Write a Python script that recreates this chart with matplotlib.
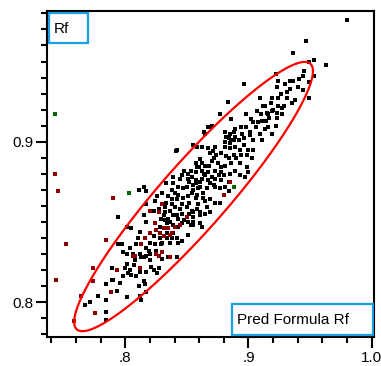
import numpy as np
import matplotlib
matplotlib.use("Agg")
import matplotlib.pyplot as plt
from matplotlib.patches import Rectangle
from matplotlib.ticker import FixedLocator

# ---------------- data ----------------
black_pts = [
    (0.980,0.976),(0.947,0.963),(0.936,0.955),(0.953,0.951),(0.949,0.950),(0.963,0.948),(0.922,0.942),
    (0.945,0.944),(0.944,0.941),(0.953,0.941),(0.934,0.938),(0.936,0.938),(0.924,0.938),(0.949,0.937),
    (0.923,0.934),(0.934,0.933),(0.944,0.932),(0.931,0.931),(0.949,0.927),(0.896,0.936),(0.883,0.925),
    (0.877,0.917),(0.868,0.909),(0.841,0.894),
    (0.909,0.927),(0.919,0.927),(0.924,0.927),(0.912,0.922),(0.920,0.920),(0.924,0.922),(0.927,0.921),
    (0.898,0.917),(0.916,0.917),(0.923,0.918),(0.917,0.915),(0.886,0.914),(0.904,0.912),(0.908,0.912),
    (0.911,0.913),(0.894,0.909),(0.898,0.909),(0.913,0.908),(0.916,0.909),(0.922,0.910),(0.881,0.906),
    (0.885,0.905),(0.901,0.906),(0.909,0.905),(0.919,0.905),(0.882,0.903),(0.889,0.903),(0.896,0.902),
    (0.904,0.901),(0.911,0.901),(0.881,0.900),(0.886,0.901),(0.864,0.906),(0.867,0.909),(0.870,0.910),
    (0.888,0.906),(0.889,0.908),(0.884,0.902),(0.888,0.901),(0.892,0.901),
    (0.855,0.898),(0.862,0.897),(0.867,0.896),(0.871,0.894),(0.873,0.897),(0.881,0.897),(0.885,0.896),
    (0.889,0.897),(0.893,0.895),(0.842,0.895),(0.874,0.892),(0.878,0.893),(0.882,0.891),(0.888,0.892),
    (0.890,0.890),(0.894,0.892),(0.857,0.887),(0.861,0.889),(0.865,0.885),(0.870,0.888),(0.875,0.887),
    (0.881,0.885),(0.886,0.887),(0.893,0.887),(0.853,0.882),(0.857,0.881),(0.862,0.882),(0.867,0.881),
    (0.873,0.882),(0.878,0.881),(0.885,0.880),(0.889,0.882),(0.846,0.879),(0.851,0.877),(0.857,0.876),
    (0.862,0.877),(0.867,0.876),(0.873,0.877),(0.878,0.876),(0.884,0.875),(0.843,0.872),(0.850,0.872),
    (0.855,0.873),(0.861,0.872),(0.866,0.871),(0.872,0.873),(0.877,0.871),(0.881,0.872),
    (0.858,0.897),(0.869,0.893),(0.885,0.899),(0.896,0.898),(0.900,0.895),(0.904,0.895),(0.899,0.892),
    (0.903,0.890),(0.899,0.884),(0.900,0.881),(0.897,0.878),(0.893,0.879),(0.910,0.917),(0.927,0.917),
    (0.923,0.915),(0.913,0.922),(0.919,0.919),(0.915,0.918),(0.938,0.926),(0.935,0.924),(0.929,0.922),
    (0.931,0.927),(0.865,0.905),(0.901,0.904),
    (0.857,0.874),(0.861,0.875),(0.869,0.874),(0.873,0.872),(0.884,0.869),(0.854,0.868),(0.858,0.867),
    (0.863,0.865),(0.869,0.864),(0.873,0.862),(0.877,0.862),(0.866,0.859),(0.859,0.861),(0.855,0.856),
    (0.861,0.856),(0.865,0.855),(0.869,0.856),(0.855,0.850),(0.861,0.849),(0.862,0.847),
    (0.815,0.872),(0.839,0.878),(0.833,0.874),(0.839,0.874),(0.844,0.877),(0.848,0.882),(0.851,0.880),
    (0.858,0.884),(0.862,0.887),(0.854,0.878),(0.865,0.879),(0.847,0.871),(0.855,0.870),(0.859,0.871),
    (0.863,0.868),(0.840,0.868),(0.843,0.867),(0.835,0.866),(0.838,0.864),(0.842,0.864),(0.847,0.865),
    (0.851,0.866),(0.857,0.865),(0.865,0.863),(0.826,0.866),(0.824,0.863),(0.817,0.861),(0.823,0.857),
    (0.832,0.859),(0.836,0.857),(0.840,0.859),(0.844,0.858),(0.850,0.859),(0.854,0.857),(0.858,0.858),
    (0.831,0.854),(0.835,0.852),(0.839,0.854),(0.843,0.852),(0.846,0.855),(0.855,0.853),(0.861,0.854),
    (0.817,0.850),(0.824,0.849),(0.828,0.847),(0.834,0.849),(0.839,0.848),(0.846,0.849),(0.853,0.848),
    (0.817,0.869),(0.811,0.870),(0.832,0.856),(0.842,0.854),(0.832,0.851),(0.836,0.850),(0.815,0.854),
    (0.794,0.853),(0.801,0.847),(0.805,0.846),(0.812,0.844),(0.820,0.843),(0.834,0.843),(0.823,0.841),
    (0.828,0.840),(0.834,0.840),(0.838,0.840),(0.794,0.836),(0.797,0.836),(0.804,0.834),(0.809,0.836),
    (0.820,0.837),(0.824,0.836),(0.830,0.837),(0.836,0.837),(0.798,0.831),(0.801,0.830),(0.806,0.830),
    (0.812,0.830),(0.820,0.830),(0.825,0.831),(0.827,0.829),(0.815,0.828),(0.835,0.828),(0.842,0.828),
    (0.843,0.847),(0.851,0.850),(0.855,0.848),(0.839,0.843),(0.842,0.840),(0.851,0.842),(0.846,0.838),
    (0.843,0.837),(0.825,0.832),(0.830,0.827),(0.821,0.822),(0.827,0.821),(0.826,0.818),(0.823,0.820),
    (0.767,0.798),(0.771,0.800),(0.778,0.804),(0.784,0.811),(0.784,0.801),(0.790,0.814),(0.796,0.812),
    (0.798,0.816),(0.800,0.821),(0.801,0.824),(0.802,0.818),(0.805,0.817),(0.809,0.816),(0.813,0.828),
    (0.817,0.829),(0.811,0.810),(0.816,0.811),(0.812,0.804),(0.813,0.801),(0.793,0.807),(0.784,0.794),
    (0.784,0.789),(0.801,0.803),(0.789,0.821),(0.789,0.814),
    (0.807,0.823),(0.808,0.826),(0.804,0.820),(0.812,0.819),(0.817,0.819),(0.815,0.813),(0.817,0.806),
    (0.820,0.826),(0.819,0.832),
    (0.829,0.852),(0.848,0.851),(0.852,0.855),(0.827,0.858),(0.846,0.861),(0.838,0.870),(0.830,0.868),
    (0.852,0.862),(0.870,0.878),(0.876,0.879),(0.864,0.880),(0.880,0.879),(0.868,0.885),(0.878,0.884),
    (0.872,0.890),(0.884,0.890),(0.860,0.884),(0.852,0.875),(0.833,0.862),(0.838,0.861),(0.829,0.836),
    (0.817,0.834),(0.810,0.840),(0.895,0.905),(0.906,0.909),(0.902,0.914),(0.914,0.913),(0.907,0.919),
    (0.918,0.924),(0.926,0.930),(0.940,0.934),(0.941,0.939),(0.930,0.936),
]
red_pts = [
    (0.745,0.869),(0.743,0.880),(0.752,0.836),(0.744,0.814),(0.790,0.865),(0.784,0.839),(0.774,0.821),
    (0.774,0.813),(0.764,0.804),(0.775,0.793),(0.758,0.788),(0.793,0.820),(0.788,0.806),(0.806,0.829),
    (0.812,0.821),(0.820,0.857),(0.827,0.856),(0.830,0.861),(0.820,0.843),(0.825,0.845),(0.828,0.843),
    (0.835,0.846),(0.838,0.843),(0.816,0.840),(0.813,0.836),(0.808,0.829),(0.830,0.831),(0.850,0.853),
    (0.831,0.846),(0.840,0.847),(0.831,0.841),(0.836,0.842),(0.844,0.848),(0.825,0.830),(0.827,0.829),
    (0.836,0.828),(0.885,0.875),(0.880,0.867),(0.824,0.849),
]
green_pts = [(0.743,0.917),(0.803,0.868),(0.888,0.872)]

# bivariate-normal density ellipse (95%)
ell_mean_x, ell_mean_y = 0.8554, 0.8658
ell_sd_x, ell_sd_y = 0.0396, 0.0343
ell_corr = 0.931
ell_level = 0.95

x_major = [0.8, 0.9, 1.0]
x_major_labels = [".8", ".9", "1.0"]
y_major = [0.8, 0.9]
y_major_labels = ["0.8", "0.9"]
x_label_text = "Pred Formula Rf"
y_label_text = "Rf"

# ---------------- figure ----------------
W, H = 381, 366
fig = plt.figure(figsize=(W/100, H/100), dpi=100)
L, R, T, B = 47, 374, 11, 336.7
ax = fig.add_axes([L/W, 1-B/H, (R-L)/W, (B-T)/H])
ax.set_xlim(0.7364, 1.0019)
ax.set_ylim(0.7784, 0.9815)

def draw(pts, color):
    a = np.array(pts)
    ax.scatter(a[:, 0], a[:, 1], marker='s', s=12, c=color, linewidths=0, zorder=3)

draw(black_pts, '#000000')
draw(red_pts, '#8b0000')
draw(green_pts, '#006400')

c = np.sqrt(-2*np.log(1-ell_level))
t = np.linspace(0, 2*np.pi, 500)
ex = ell_mean_x + c*ell_sd_x*np.cos(t)
ey = ell_mean_y + c*ell_sd_y*(ell_corr*np.cos(t) + np.sqrt(1-ell_corr**2)*np.sin(t))
ax.plot(ex, ey, color='#ff0000', lw=1.6, zorder=4)

# ticks
font = 'Liberation Sans'
ax.xaxis.set_major_locator(FixedLocator(x_major))
ax.set_xticklabels(x_major_labels, fontfamily=font, fontsize=11)
ax.yaxis.set_major_locator(FixedLocator(y_major))
ax.set_yticklabels(y_major_labels, fontfamily=font, fontsize=11)
ax.xaxis.set_minor_locator(FixedLocator(np.round(np.arange(0.74, 1.001, 0.02), 3)))
ax.yaxis.set_minor_locator(FixedLocator(np.round(np.arange(0.78, 0.981, 0.01), 3)))
ax.tick_params(which='major', direction='out', length=8, width=1.5, pad=2, colors='black')
ax.tick_params(which='minor', direction='out', length=4.5, width=1.5)
for s in ax.spines.values():
    s.set_linewidth(1.5)

# label boxes
blue = '#1a9fe6'
ax.add_patch(Rectangle((0.006, 0.902), 0.119, 0.092, transform=ax.transAxes,
                       fill=True, facecolor='white', edgecolor=blue, lw=1.6, zorder=5))
ax.text(0.022, 0.944, y_label_text, transform=ax.transAxes, fontfamily=font, fontsize=11,
        va='center', ha='left', zorder=6)
ax.add_patch(Rectangle((0.565, 0.005), 0.431, 0.0945, transform=ax.transAxes,
                       fill=True, facecolor='white', edgecolor=blue, lw=1.6, zorder=5))
ax.text(0.580, 0.050, x_label_text, transform=ax.transAxes, fontfamily=font, fontsize=11,
        va='center', ha='left', zorder=6)

fig.savefig('out.png', dpi=100)
